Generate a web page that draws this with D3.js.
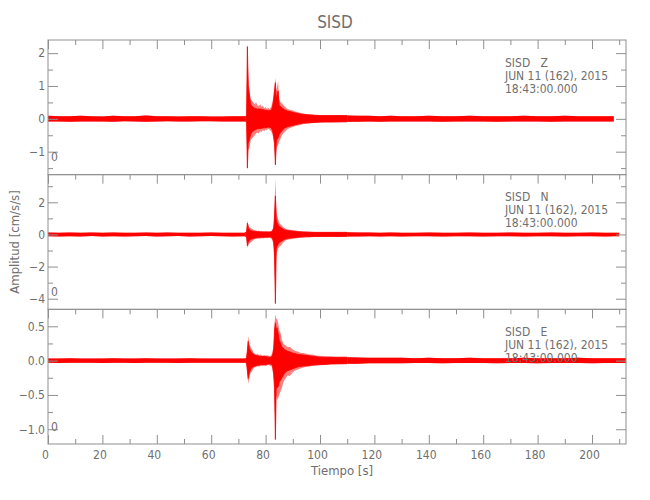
<!DOCTYPE html>
<html><head><meta charset="utf-8">
<script src="https://cdn.jsdelivr.net/npm/d3@7"></script>
<style>
body{margin:0;background:#fff;}
svg text{font-family:"Liberation Sans Narrow","DejaVu Sans Condensed","Arial Narrow",sans-serif;fill:#6f6f6f;}
</style></head><body>
<svg id="chart" width="650" height="500"></svg>
<script>
// ---------------- DATA ----------------
const chartTitle = "SISD";
const xLabel = "Tiempo [s]";
const yLabel = "Amplitud [cm/s/s]";
const stationLabels = ["SISD   Z", "SISD   N", "SISD   E"];
const dateLabel = "JUN 11 (162), 2015";
const timeLabel = "18:43:00.000";
const cornerLabel = "0";

const xDomain = [0, 212.5];
const xMajorTicks = [0, 20, 40, 60, 80, 100, 120, 140, 160, 180, 200];
const xMinorTicks = [10, 30, 50, 70, 90, 110, 130, 150, 170, 190, 210];

// sample times of the envelope (s)
const times = [
  0,4,8,12,16,20,24,28,32,36,40,44,48,52,56,60,64,68,72,
  72.6,73.0,73.3,73.6,74.0,
  74.5,75,75.5,76,76.5,77,77.5,78,78.5,79,79.5,80,80.5,81,81.5,82,82.5,
  83.0,83.3,83.6,83.9,84.2,84.6,
  85,85.5,86,86.5,87,87.5,88,
  89,90,91,92,93,94,95,96,97,98,99,100,
  102,104,106,108,110,
  114,118,122,126,130,
  135,140,145,150,155,160,165,170,175,180,185,190,195,200,205,
  208,210,212.5
];
// times of the dense core of the wave train
const coreTimes = [72.6,73.0,73.3,73.6,74.0,74.5,75,76,77,78,79,80,81,82,82.5,
  83.0,83.3,83.6,83.9,84.2,84.6,85,86,87,88,90,92,94,96,98,100,104,110];

// ---- Z component (outer envelope) ----
const zHi = [
  0.09,0.08,0.08,0.09,0.08,0.07,0.09,0.08,0.08,0.10,0.08,0.08,0.07,0.08,0.08,0.07,0.07,0.08,0.08,
  0.08,0.10,2.30,1.45,0.95,
  0.60,0.55,0.50,0.45,0.50,0.42,0.38,0.45,0.36,0.40,0.32,0.36,0.30,0.34,0.30,0.36,0.50,
  0.80,1.00,1.25,0.85,0.95,1.15,
  0.60,0.50,0.48,0.42,0.38,0.34,0.30,
  0.28,0.25,0.22,0.20,0.18,0.16,0.15,0.14,0.13,0.12,0.12,0.11,
  0.10,0.10,0.10,0.09,0.10,
  0.09,0.09,0.08,0.09,0.08,
  0.08,0.09,0.08,0.08,0.09,0.08,0.08,0.08,0.09,0.08,0.08,0.09,0.08,0.08,0.08,
  0.08,null,null
];
const zLo = [
  -0.08,-0.08,-0.09,-0.08,-0.08,-0.08,-0.09,-0.07,-0.08,-0.09,-0.08,-0.07,-0.08,-0.08,-0.07,-0.07,-0.08,-0.08,-0.08,
  -0.08,-0.10,-1.58,-0.95,-0.90,
  -0.65,-0.60,-0.55,-0.50,-0.45,-0.42,-0.45,-0.38,-0.40,-0.35,-0.38,-0.32,-0.35,-0.30,-0.34,-0.38,-0.45,
  -0.70,-0.90,-1.47,-1.00,-0.85,-0.80,
  -0.70,-0.60,-0.50,-0.45,-0.40,-0.36,-0.32,
  -0.28,-0.25,-0.22,-0.20,-0.18,-0.16,-0.15,-0.14,-0.13,-0.12,-0.11,-0.11,
  -0.10,-0.10,-0.09,-0.10,-0.09,
  -0.09,-0.08,-0.09,-0.08,-0.08,
  -0.08,-0.08,-0.09,-0.08,-0.08,-0.08,-0.09,-0.08,-0.08,-0.08,-0.09,-0.08,-0.08,-0.08,-0.08,
  -0.08,null,null
];
const zCoreHi = [0.08,0.09,2.20,1.00,0.75,0.45,0.38,0.32,0.30,0.30,0.28,0.26,0.25,0.25,0.35,
  0.60,0.85,1.10,0.60,0.70,0.85,0.42,0.34,0.28,0.24,0.20,0.16,0.13,0.12,0.11,0.10,0.10,0.10];
const zCoreLo = [-0.08,-0.09,-1.50,-0.75,-0.65,-0.48,-0.40,-0.34,-0.30,-0.30,-0.28,-0.27,-0.25,-0.27,-0.35,
  -0.55,-0.75,-1.40,-0.75,-0.62,-0.58,-0.48,-0.36,-0.28,-0.24,-0.20,-0.16,-0.13,-0.12,-0.11,-0.10,-0.10,-0.09];

// ---- N component ----
const nHi = [
  0.12,0.11,0.12,0.10,0.12,0.11,0.12,0.11,0.10,0.12,0.11,0.12,0.11,0.10,0.11,0.12,0.11,0.10,0.11,
  0.12,0.20,0.87,0.65,0.45,
  0.40,0.35,0.30,0.28,0.25,0.22,0.25,0.20,0.22,0.20,0.18,0.22,0.20,0.18,0.20,0.22,0.30,
  0.60,1.80,3.50,1.70,1.20,0.95,
  0.75,0.62,0.55,0.45,0.40,0.35,0.32,
  0.30,0.28,0.25,0.22,0.20,0.19,0.18,0.17,0.16,0.15,0.15,0.14,
  0.14,0.13,0.13,0.12,0.13,
  0.12,0.12,0.11,0.12,0.11,
  0.11,0.12,0.11,0.11,0.12,0.11,0.11,0.12,0.11,0.11,0.12,0.11,0.11,0.12,0.11,
  0.11,0.11,null
];
const nLo = [
  -0.11,-0.12,-0.11,-0.12,-0.10,-0.12,-0.11,-0.12,-0.11,-0.10,-0.12,-0.11,-0.10,-0.12,-0.11,-0.10,-0.11,-0.12,-0.11,
  -0.12,-0.20,-0.83,-0.70,-0.55,
  -0.50,-0.42,-0.35,-0.30,-0.28,-0.27,-0.25,-0.27,-0.22,-0.25,-0.22,-0.20,-0.24,-0.22,-0.20,-0.25,-0.35,
  -0.80,-2.00,-4.40,-1.35,-1.10,-0.90,
  -0.75,-0.72,-0.60,-0.50,-0.42,-0.36,-0.33,
  -0.30,-0.28,-0.25,-0.22,-0.20,-0.19,-0.18,-0.17,-0.16,-0.15,-0.14,-0.14,
  -0.13,-0.13,-0.12,-0.13,-0.12,
  -0.12,-0.11,-0.12,-0.11,-0.12,
  -0.11,-0.11,-0.12,-0.11,-0.11,-0.12,-0.11,-0.11,-0.12,-0.11,-0.11,-0.12,-0.11,-0.11,-0.12,
  -0.11,-0.11,null
];
const nCoreHi = [0.12,0.15,0.70,0.45,0.30,0.25,0.22,0.18,0.17,0.16,0.16,0.15,0.15,0.15,0.20,
  0.40,1.20,2.40,1.00,0.75,0.60,0.50,0.38,0.28,0.24,0.20,0.17,0.15,0.14,0.13,0.13,0.13,0.13];
const nCoreLo = [-0.12,-0.15,-0.70,-0.50,-0.38,-0.32,-0.27,-0.22,-0.19,-0.18,-0.17,-0.17,-0.16,-0.16,-0.22,
  -0.50,-1.40,-4.30,-0.90,-0.75,-0.62,-0.50,-0.40,-0.30,-0.25,-0.20,-0.17,-0.15,-0.14,-0.13,-0.13,-0.13,-0.12];

// ---- E component ----
const eHi = [
  0.03,0.03,0.035,0.03,0.03,0.03,0.035,0.03,0.03,0.035,0.03,0.03,0.03,0.035,0.03,0.03,0.03,0.03,0.03,
  0.03,0.05,0.20,0.36,0.25,
  0.20,0.16,0.12,0.10,0.09,0.10,0.08,0.09,0.08,0.07,0.08,0.07,0.08,0.07,0.06,0.08,0.10,
  0.25,0.55,0.68,0.60,0.62,0.55,
  0.45,0.40,0.30,0.25,0.23,0.22,0.20,
  0.20,0.16,0.14,0.13,0.11,0.11,0.10,0.09,0.09,0.08,0.07,0.07,
  0.06,0.06,0.05,0.05,0.05,
  0.045,0.04,0.04,0.04,0.04,
  0.035,0.04,0.035,0.035,0.04,0.035,0.035,0.035,0.04,0.035,0.035,0.035,0.04,0.035,0.035,
  0.035,0.035,0.035
];
const eLo = [
  -0.03,-0.035,-0.03,-0.03,-0.03,-0.035,-0.03,-0.03,-0.035,-0.03,-0.03,-0.03,-0.035,-0.03,-0.03,-0.03,-0.03,-0.03,-0.03,
  -0.03,-0.05,-0.20,-0.34,-0.25,
  -0.18,-0.15,-0.12,-0.10,-0.09,-0.08,-0.09,-0.08,-0.07,-0.08,-0.07,-0.08,-0.07,-0.06,-0.07,-0.08,-0.10,
  -0.30,-0.60,-1.18,-0.50,-0.57,-0.55,
  -0.50,-0.45,-0.40,-0.32,-0.28,-0.25,-0.22,
  -0.22,-0.17,-0.14,-0.13,-0.11,-0.10,-0.09,-0.09,-0.08,-0.08,-0.07,-0.06,
  -0.06,-0.05,-0.05,-0.05,-0.045,
  -0.045,-0.04,-0.04,-0.04,-0.04,
  -0.035,-0.035,-0.04,-0.035,-0.035,-0.035,-0.04,-0.035,-0.035,-0.04,-0.035,-0.035,-0.035,-0.04,-0.035,
  -0.035,-0.035,-0.035
];
const eCoreHi = [0.03,0.04,0.15,0.28,0.18,0.14,0.11,0.08,0.07,0.06,0.06,0.06,0.05,0.05,0.07,
  0.18,0.45,0.55,0.45,0.48,0.40,0.30,0.20,0.16,0.14,0.11,0.09,0.08,0.07,0.06,0.05,0.05,0.05];
const eCoreLo = [-0.03,-0.04,-0.15,-0.26,-0.18,-0.13,-0.10,-0.08,-0.07,-0.06,-0.06,-0.06,-0.05,-0.05,-0.07,
  -0.20,-0.40,-1.15,-0.38,-0.40,-0.38,-0.32,-0.25,-0.18,-0.15,-0.12,-0.09,-0.08,-0.07,-0.06,-0.06,-0.05,-0.045];

// y ranges and ticks per component
const zRange = [-1.70, 2.40], zMajor = [-1, 0, 1, 2], zMinor = [-1.5, -0.5, 0.5, 1.5];
const nRange = [-4.66, 3.72], nMajor = [-4, -2, 0, 2], nMinor = [-3, -1, 1, 3];
const eRange = [-1.215, 0.747], eMajor = [-1.0, -0.5, 0.0, 0.5], eMinor = [-0.75, -0.25, 0.25];

// ---------------- DRAW ----------------
const svg = d3.select("#chart");
const L = 48, R = 626, T = 40, B = 444;
const ph = (B - T) / 3;
const axisColor = "#8f8f8f";
const red = "#ff0000";

const x = d3.scaleLinear().domain(xDomain).range([L, R]);

const panels = [
  {label: stationLabels[0], hi: zHi, lo: zLo, cHi: zCoreHi, cLo: zCoreLo, range: zRange, major: zMajor, minor: zMinor, fmt: d3.format("d")},
  {label: stationLabels[1], hi: nHi, lo: nLo, cHi: nCoreHi, cLo: nCoreLo, range: nRange, major: nMajor, minor: nMinor, fmt: d3.format("d")},
  {label: stationLabels[2], hi: eHi, lo: eLo, cHi: eCoreHi, cLo: eCoreLo, range: eRange, major: eMajor, minor: eMinor, fmt: d3.format(".1f")}
];

const defs = svg.append("defs");

function styleAxis(g) {
  g.select(".domain").remove();
  g.selectAll("line").attr("stroke", axisColor).attr("stroke-width", 1);
  g.selectAll("text").attr("fill", "#6f6f6f").style("font-size", "12px")
    .style("font-family", '"Liberation Sans Narrow","DejaVu Sans Condensed",sans-serif');
}

panels.forEach((p, i) => {
  const y0 = T + i * ph, y1 = y0 + ph;
  const y = d3.scaleLinear().domain(p.range).range([y1, y0]);
  const g = svg.append("g");

  const cid = "clip" + i;
  defs.append("clipPath").attr("id", cid).append("rect")
    .attr("x", L).attr("y", y0).attr("width", R - L).attr("height", ph);
  const qid = "quiet" + i;
  const q = defs.append("clipPath").attr("id", qid);
  q.append("rect").attr("x", L).attr("y", y0).attr("width", x(coreTimes[0]) - L).attr("height", ph);
  q.append("rect").attr("x", x(coreTimes[coreTimes.length - 1])).attr("y", y0)
    .attr("width", R - x(coreTimes[coreTimes.length - 1])).attr("height", ph);

  const outer = times.map((t, k) => ({t, hi: p.hi[k], lo: p.lo[k]}));
  const core = coreTimes.map((t, k) => ({t, hi: p.cHi[k], lo: p.cLo[k]}));

  const area = d3.area()
    .defined(d => d.hi != null && d.lo != null)
    .x(d => x(d.t)).y0(d => y(d.lo)).y1(d => y(d.hi));

  const tg = g.append("g").attr("clip-path", `url(#${cid})`);
  tg.append("path").datum(outer).attr("d", area).attr("fill", red).attr("fill-opacity", 0.5);
  tg.append("g").attr("clip-path", `url(#${qid})`)
    .append("path").datum(outer).attr("d", area).attr("fill", red);
  tg.append("path").datum(core).attr("d", area).attr("fill", red);
  const edge = d3.line().x(d => x(d.t)).y(d => y(d.hi));
  const edge2 = d3.line().x(d => x(d.t)).y(d => y(d.lo));
  tg.append("path").datum(core).attr("d", edge).attr("fill", "none").attr("stroke", red).attr("stroke-width", 0.8);
  tg.append("path").datum(core).attr("d", edge2).attr("fill", "none").attr("stroke", red).attr("stroke-width", 0.8);

  const ly = g.append("g").attr("transform", `translate(${L},0)`)
    .call(d3.axisLeft(y).tickValues(p.major).tickSizeInner(-10).tickSizeOuter(0).tickPadding(3).tickFormat(p.fmt));
  styleAxis(ly);
  const lym = g.append("g").attr("transform", `translate(${L},0)`)
    .call(d3.axisLeft(y).tickValues(p.minor).tickSizeInner(-5).tickSizeOuter(0).tickFormat(""));
  styleAxis(lym);
  const ry = g.append("g").attr("transform", `translate(${R},0)`)
    .call(d3.axisRight(y).tickValues(p.major).tickSizeInner(-10).tickSizeOuter(0).tickFormat(""));
  styleAxis(ry);
  const rym = g.append("g").attr("transform", `translate(${R},0)`)
    .call(d3.axisRight(y).tickValues(p.minor).tickSizeInner(-5).tickSizeOuter(0).tickFormat(""));
  styleAxis(rym);

  const tx = g.append("g").attr("transform", `translate(0,${y0})`)
    .call(d3.axisTop(x).tickValues(xMajorTicks).tickSizeInner(-9).tickSizeOuter(0).tickFormat(""));
  styleAxis(tx);
  const txm = g.append("g").attr("transform", `translate(0,${y0})`)
    .call(d3.axisTop(x).tickValues(xMinorTicks).tickSizeInner(-5).tickSizeOuter(0).tickFormat(""));
  styleAxis(txm);

  g.append("rect").attr("x", L).attr("y", y0).attr("width", R - L).attr("height", ph)
    .attr("fill", "none").attr("stroke", axisColor).attr("stroke-width", 1);

  const ann = g.append("g").style("font-size", "12px");
  ann.append("text").attr("x", 505).attr("y", y0 + 26.5).style("white-space", "pre").text(p.label);
  ann.append("text").attr("x", 505).attr("y", y0 + 39.5).style("white-space", "pre").text(dateLabel);
  ann.append("text").attr("x", 505).attr("y", y0 + 52.5).text(timeLabel);
  ann.append("text").attr("x", 51).attr("y", y1 - 13.5).text(cornerLabel);

  if (i === 2) {
    const bx = g.append("g").attr("transform", `translate(0,${y1})`)
      .call(d3.axisBottom(x).tickValues(xMajorTicks).tickSizeInner(-9).tickSizeOuter(0).tickPadding(6));
    styleAxis(bx);
    bx.selectAll("text").attr("dx", -3);
    const bxm = g.append("g").attr("transform", `translate(0,${y1})`)
      .call(d3.axisBottom(x).tickValues(xMinorTicks).tickSizeInner(-5).tickSizeOuter(0).tickFormat(""));
    styleAxis(bxm);
  }
});

svg.append("text").attr("x", 335).attr("y", 28).attr("text-anchor", "middle")
  .style("font-size", "17px").text(chartTitle);
svg.append("text").attr("x", 342).attr("y", 475).attr("text-anchor", "middle")
  .style("font-size", "13px").text(xLabel);
svg.append("text").attr("transform", "translate(19,242) rotate(-90)").attr("text-anchor", "middle")
  .style("font-size", "13px").text(yLabel);
</script>
</body></html>
